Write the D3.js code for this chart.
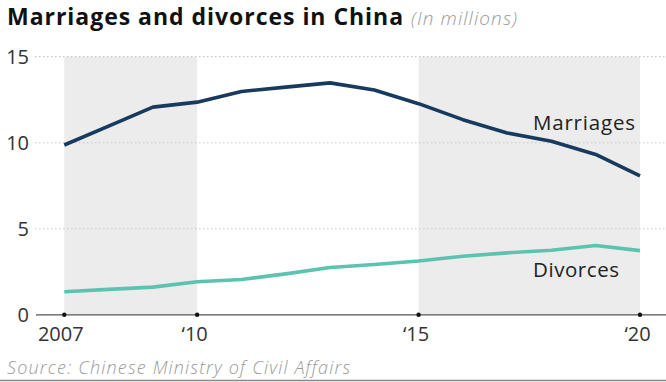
<!DOCTYPE html>
<html><head><meta charset="utf-8">
<script src="https://cdn.jsdelivr.net/npm/d3@7"></script>
<style>
html,body{margin:0;padding:0;background:#fff;}
svg{display:block;}
text{font-family:"Open Sans",Lato,sans-serif;}
</style></head>
<body>
<svg id="c" width="666" height="382"></svg>
<script>
const years = [2007,2008,2009,2010,2011,2012,2013,2014,2015,2016,2017,2018,2019,2020];
const marriages = [9.87,10.97,12.07,12.36,12.98,13.23,13.48,13.07,12.27,11.34,10.57,10.09,9.32,8.08];
const divorces = [1.34,1.48,1.61,1.92,2.05,2.38,2.75,2.92,3.13,3.40,3.60,3.75,4.03,3.73];
const yTicks = [0,5,10,15];
const xTicks = [2007,2010,2015,2020];
const xTickLabels = ["2007","\u201810","\u201815","\u201820"];
const shadedPeriods = [[2007,2010],[2015,2020]];

const svg = d3.select("#c");
const x = d3.scaleLinear().domain([2007,2020]).range([64.3,640]);
const y = d3.scaleLinear().domain([0,15]).range([314.8,56.7]);

function fit(sel, target){
  const node = sel.node();
  const w = node.getComputedTextLength();
  const n = node.textContent.length;
  if (n > 1) sel.attr("letter-spacing", ((target - w)/(n-1)).toFixed(2));
  return sel;
}

svg.selectAll("rect.band").data(shadedPeriods).join("rect")
  .attr("x", d=>x(d[0])).attr("width", d=>x(d[1])-x(d[0]))
  .attr("y", y(15)).attr("height", y(0)-y(15))
  .attr("fill","#ececec");

const yAxis = d3.axisLeft(y).tickValues(yTicks).tickSize(0).tickFormat(d3.format("d"));
const gy = svg.append("g").attr("transform","translate(29,0)").call(yAxis);
gy.select(".domain").remove();
gy.selectAll("text").attr("font-size",20).attr("fill","#333").attr("x",0).attr("dy","0.35em");
svg.selectAll("line.grid").data(yTicks.filter(d=>d>0)).join("line")
  .attr("x1",35).attr("x2",666).attr("y1",d=>y(d)).attr("y2",d=>y(d))
  .attr("stroke","#c8c8c8").attr("stroke-width",1.2).attr("stroke-dasharray","1.5,2.5");

const line = d3.line().x((d,i)=>x(years[i])).y(d=>y(d));
svg.append("path").datum(divorces).attr("d",line).attr("fill","none")
  .attr("stroke","#5cc3b0").attr("stroke-width",3.6).attr("stroke-linejoin","round");
svg.append("path").datum(marriages).attr("d",line).attr("fill","none")
  .attr("stroke","#173a5e").attr("stroke-width",3.6).attr("stroke-linejoin","round");

const xAxis = d3.axisBottom(x).tickValues(xTicks).tickSize(0).tickFormat((d,i)=>xTickLabels[i]);
const gx = svg.append("g").attr("transform",`translate(0,${y(0)})`).call(xAxis);
gx.select(".domain").remove();
gx.selectAll("text").attr("font-size",20).attr("fill","#333").attr("y",26).attr("dy",0)
  .attr("dx",(d,i)=>i===0?-4:-3);
svg.append("line").attr("x1",36).attr("x2",666).attr("y1",y(0)).attr("y2",y(0))
  .attr("stroke","#555").attr("stroke-width",1.3);
svg.selectAll("circle.tick").data(xTicks).join("circle")
  .attr("cx",d=>x(d)).attr("cy",y(0)).attr("r",2.2).attr("fill","#111");

fit(svg.append("text").attr("x",533).attr("y",130).attr("font-size",20.5).attr("fill","#222").text("Marriages"), 102);
fit(svg.append("text").attr("x",533).attr("y",277).attr("font-size",20.5).attr("fill","#222").text("Divorces"), 86);

fit(svg.append("text").attr("x",7).attr("y",24.5).attr("font-size",23).attr("font-weight",700).attr("fill","#111")
  .text("Marriages and divorces in China"), 396);
fit(svg.append("text").attr("x",411).attr("y",24.5).attr("font-size",19).attr("font-style","italic").attr("font-weight",300).attr("fill","#9a9a9a")
  .text("(In millions)"), 106);

fit(svg.append("text").attr("x",7).attr("y",374).attr("font-size",18).attr("font-style","italic").attr("font-weight",300)
  .attr("fill","#9a9a9a").text("Source: Chinese Ministry of Civil Affairs"), 343);
svg.append("line").attr("x1",0).attr("x2",666).attr("y1",380.5).attr("y2",380.5).attr("stroke","#888").attr("stroke-width",1.5);
</script>
</body></html>
